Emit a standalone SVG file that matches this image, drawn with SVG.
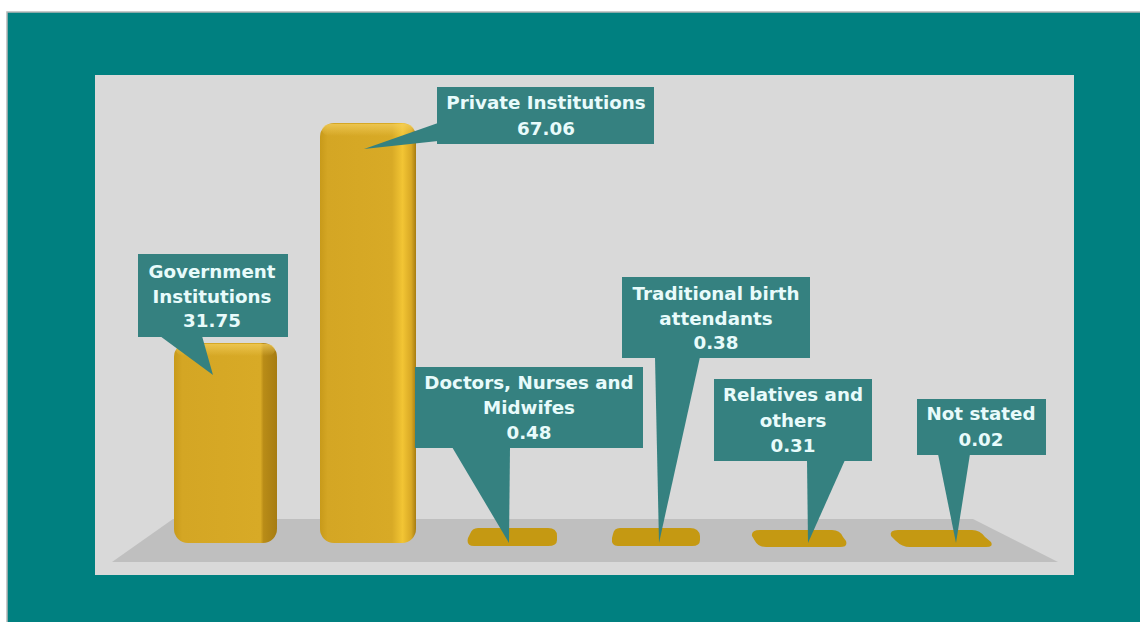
<svg xmlns="http://www.w3.org/2000/svg" width="1140" height="622" viewBox="0 0 1140 622">
<defs>
<style>
.lbl{fill:#358180;}
.t{font-family:"DejaVu Sans","Open Sans",sans-serif;font-weight:bold;font-size:18.3px;fill:#e8fbfb;text-anchor:middle;}
.flat{fill:#c59912;}
</style>
<linearGradient id="bar" x1="0" y1="0" x2="1" y2="0">
<stop offset="0" stop-color="#c89a1a"/>
<stop offset="0.08" stop-color="#d4a624"/>
<stop offset="0.75" stop-color="#d8aa26"/>
<stop offset="0.86" stop-color="#f2c534"/>
<stop offset="0.95" stop-color="#d9a925"/>
<stop offset="1" stop-color="#a67c12"/>
</linearGradient>
<linearGradient id="bar2" x1="0" y1="0" x2="1" y2="0">
<stop offset="0" stop-color="#c89a1a"/>
<stop offset="0.08" stop-color="#d4a624"/>
<stop offset="0.84" stop-color="#d8aa26"/>
<stop offset="0.87" stop-color="#b98c17"/>
<stop offset="1" stop-color="#a67c12"/>
</linearGradient>
<linearGradient id="cap" x1="0" y1="0" x2="0" y2="1">
<stop offset="0" stop-color="#f5d060" stop-opacity="0.7"/>
<stop offset="1" stop-color="#f5d060" stop-opacity="0"/>
</linearGradient>
</defs>
<rect x="7" y="12" width="1140" height="620" fill="#008080" stroke="#b8b8b8" stroke-width="1.5"/>
<rect x="95" y="75" width="979" height="500" fill="#d9d9d9"/>
<polygon points="173,519 973,519 1058,562 112,562" fill="#bfbfbf"/>
<g id="bar-government">
<rect x="174" y="343" width="103" height="200" rx="14" fill="url(#bar2)"/>
<rect x="176" y="344" width="99" height="12" rx="8" fill="url(#cap)"/>
</g>
<g id="bar-private">
<rect x="320" y="123" width="96" height="420" rx="14" fill="url(#bar)"/>
<rect x="322" y="124" width="92" height="12" rx="8" fill="url(#cap)"/>
</g>
<g id="bar-doctors"><path class="flat" d="M478,528 L548,528 Q557,528 557,536 L557,540 Q557,546 548,546 L474,546 Q466,546 468,538 L470,534 Q472,528 478,528 Z"/></g>
<g id="bar-traditional"><path class="flat" d="M620,528 L690,528 Q699,528 700,536 L700,540 Q700,546 692,546 L618,546 Q611,546 612,538 L613,534 Q614,528 620,528 Z"/></g>
<g id="bar-relatives"><path class="flat" d="M760,530 L832,530 Q840,530 843,537 L846,541 Q848,547 840,547 L766,547 Q758,547 755,541 L752,536 Q751,530 760,530 Z"/></g>
<g id="bar-notstated"><path class="flat" d="M898,530 L972,530 Q980,530 985,537 L991,542 Q994,547 986,547 L910,547 Q902,547 896,541 L891,536 Q889,530 898,530 Z"/></g>
<g id="connectors">
<polygon class="lbl" points="160,336 202,336 213,375"/>
<polygon class="lbl" points="438,123 438,141 364,149"/>
<polygon class="lbl" points="452,447 510,447 509,543"/>
<polygon class="lbl" points="655,357 700,357 659,543"/>
<polygon class="lbl" points="807,460 845,460 808,543"/>
<polygon class="lbl" points="938,454 970,454 956,543"/>
</g>
<g id="label-government">
<rect class="lbl" x="138" y="254" width="150" height="83"/>
<text class="t" x="212" y="278">Government</text>
<text class="t" x="212" y="303">Institutions</text>
<text class="t" x="212" y="327">31.75</text>
</g>
<g id="label-private">
<rect class="lbl" x="437" y="87" width="217" height="57"/>
<text class="t" x="546" y="109">Private Institutions</text>
<text class="t" x="546" y="135">67.06</text>
</g>
<g id="label-doctors">
<rect class="lbl" x="415" y="367" width="228" height="81"/>
<text class="t" x="529" y="389">Doctors, Nurses and</text>
<text class="t" x="529" y="414">Midwifes</text>
<text class="t" x="529" y="439">0.48</text>
</g>
<g id="label-traditional">
<rect class="lbl" x="622" y="277" width="188" height="81"/>
<text class="t" x="716" y="300">Traditional birth</text>
<text class="t" x="716" y="325">attendants</text>
<text class="t" x="716" y="349">0.38</text>
</g>
<g id="label-relatives">
<rect class="lbl" x="714" y="379" width="158" height="82"/>
<text class="t" x="793" y="401">Relatives and</text>
<text class="t" x="793" y="427">others</text>
<text class="t" x="793" y="452">0.31</text>
</g>
<g id="label-notstated">
<rect class="lbl" x="917" y="399" width="129" height="56"/>
<text class="t" x="981" y="420">Not stated</text>
<text class="t" x="981" y="446">0.02</text>
</g>
</svg>
